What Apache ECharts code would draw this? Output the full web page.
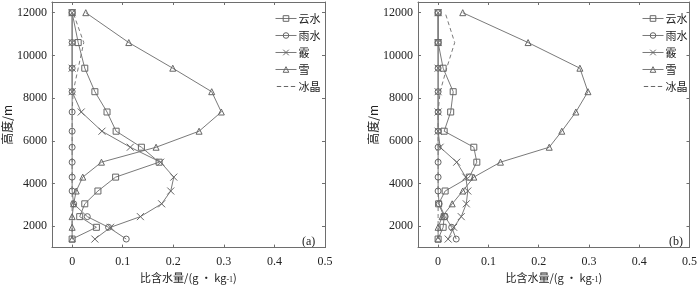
<!DOCTYPE html>
<html>
<head>
<meta charset="utf-8">
<title>比含水量廓线</title>
<script src="https://cdn.jsdelivr.net/npm/echarts@6/dist/echarts.min.js"></script>
<style>
  html, body { margin: 0; padding: 0; background: #fff; }
  #main { width: 700px; height: 289px; }
</style>
</head>
<body>
<div id="main"></div>
<script>
// 高度 (m)
var heights = [1400, 1950, 2450, 3050, 3650, 4300, 5000, 5700, 6450, 7350, 8300, 9400, 10600, 12000];

// panel (a)
var cloudA = [0, 0.048, 0.015, 0.025, 0.051, 0.086, 0.172, 0.137, 0.087, 0.069, 0.045, 0.025, 0.012, 0];
var rainA  = [0.107, 0.072, 0.030, 0.003, 0, 0, 0, 0, 0, 0, 0, 0, 0, 0];
var hailA  = [0.045, 0.076, 0.135, 0.177, 0.195, 0.201, 0.175, 0.115, 0.059, 0.018, 0, 0, 0, 0];
var snowA  = [0, 0, 0, 0.003, 0.008, 0.021, 0.058, 0.166, 0.251, 0.295, 0.276, 0.199, 0.112, 0.027];
var iceA   = [0, 0, 0, 0, 0, 0, 0, 0, 0, 0, 0.002, 0.012, 0.023, 0.002];

// panel (b)
var cloudB = [0, 0.010, 0.012, 0.001, 0.014, 0.062, 0.077, 0.071, 0.012, 0.025, 0.030, 0.010, 0, 0];
var rainB  = [0.036, 0.027, 0.014, 0.002, 0, 0, 0, 0, 0, 0, 0, 0, 0, 0];
var hailB  = [0.020, 0.031, 0.046, 0.056, 0.059, 0.055, 0.037, 0.004, 0, 0, 0, 0, 0, 0];
var snowB  = [0, 0, 0.008, 0.028, 0.049, 0.071, 0.124, 0.221, 0.246, 0.274, 0.298, 0.282, 0.179, 0.049];
var iceB   = [0, 0, 0, 0, 0, 0, 0, 0, 0, 0, 0.004, 0.017, 0.033, 0.014];

var names = ['云水', '雨水', '霰', '雪', '冰晶'];
var xTicks = [0, 0.1, 0.2, 0.3, 0.4, 0.5];
var yTicks = [2000, 4000, 6000, 8000, 10000, 12000];
var panelTags = ['(a)', '(b)'];

var lineCol = '#7a7a7a';
var frameCol = '#6e6e6e';
var serif = 'Liberation Serif';
var cjk = 'Noto Sans CJK SC';
var crossPath = 'path://M0,0L10,10M10,0L0,10';
var dashIcon = 'path://M0,0L0,0M0,4L5,4M8,4L13,4M16,4L21,4M21,8L21,8';
var symbols = ['rect', 'circle', crossPath, 'triangle', 'none'];
var hollow = { color: 'rgba(0,0,0,0)', borderColor: '#666', borderWidth: 1 };

var myChart = echarts.init(document.getElementById('main'));

var grids = [
    { left: 48, top: 2, width: 277, height: 252 },
    { left: 418, top: 2, width: 276, height: 252 }
];

function pairs(vals) {
    var out = [];
    for (var i = 0; i < vals.length; i++) out.push([vals[i], heights[i]]);
    return out;
}

var xAxes = [], yAxes = [], series = [], legends = [], graphics = [];

[0, 1].forEach(function (p) {
    // bottom x axis
    xAxes.push({
        type: 'value', gridIndex: p, position: 'bottom', min: -0.04, max: 0.5,
        name: '{a|比含水量/(g · kg}{s|-1}{a|)}', nameLocation: 'middle', nameGap: 22,
        nameTextStyle: { rich: {
            a: { fontFamily: cjk, fontSize: 11, color: '#222' },
            s: { fontFamily: serif, fontSize: 8, color: '#222', padding: [4, 0, 0, 0] }
        } },
        splitLine: { show: false },
        axisLine: { show: true, onZero: false, lineStyle: { color: frameCol } },
        axisTick: { show: true, inside: true, length: 3, customValues: xTicks, lineStyle: { color: frameCol } },
        axisLabel: { customValues: xTicks, margin: 8, fontFamily: serif, fontSize: 12, color: '#222',
            formatter: function (v) { return String(Math.round(v * 10) / 10); } }
    });
    // top mirror axis (ticks only)
    xAxes.push({
        type: 'value', gridIndex: p, position: 'top', min: -0.04, max: 0.5,
        splitLine: { show: false },
        axisLine: { show: true, onZero: false, lineStyle: { color: frameCol } },
        axisTick: { show: true, inside: true, length: 3, customValues: xTicks, lineStyle: { color: frameCol } },
        axisLabel: { show: false }
    });
    // left y axis
    yAxes.push({
        type: 'value', gridIndex: p, position: 'left', min: 1000, max: 12500,
        name: '高度/m', nameLocation: 'middle', nameGap: 38, nameRotate: 90,
        nameTextStyle: { fontFamily: cjk, fontSize: 12, color: '#222' },
        splitLine: { show: false },
        axisLine: { show: true, onZero: false, lineStyle: { color: frameCol } },
        axisTick: { show: true, inside: true, length: 3, customValues: yTicks, lineStyle: { color: frameCol } },
        axisLabel: { customValues: yTicks, margin: 5, fontFamily: serif, fontSize: 12, color: '#222',
            formatter: function (v) { return String(v); } }
    });
    // right mirror axis (ticks only)
    yAxes.push({
        type: 'value', gridIndex: p, position: 'right', min: 1000, max: 12500,
        splitLine: { show: false },
        axisLine: { show: true, onZero: false, lineStyle: { color: frameCol } },
        axisTick: { show: true, inside: true, length: 3, customValues: yTicks, lineStyle: { color: frameCol } },
        axisLabel: { show: false }
    });

    var sets = p === 0 ? [cloudA, rainA, hailA, snowA, iceA] : [cloudB, rainB, hailB, snowB, iceB];
    sets.forEach(function (vals, k) {
        var isIce = k === 4;
        series.push({
            name: names[k], type: 'line',
            xAxisIndex: p * 2, yAxisIndex: p * 2,
            data: pairs(vals),
            symbol: symbols[k],
            symbolSize: k === 2 ? 7 : 6,
            showSymbol: !isIce,
            smooth: false,
            silent: true,
            z: 5 - k,
            lineStyle: { color: lineCol, width: 1, type: isIce ? [4, 3] : 'solid' },
            itemStyle: hollow
        });
    });

    legends.push({
        data: names.map(function (n, k) {
            return k === 4 ? { name: n, icon: dashIcon } : { name: n };
        }),
        orient: 'vertical',
        left: p === 0 ? 270 : 637,
        top: 8,
        itemWidth: 21, itemHeight: 7, itemGap: 6,
        itemStyle: hollow,
        lineStyle: { color: lineCol, width: 1 },
        textStyle: { fontFamily: cjk, fontSize: 11, color: '#222', padding: [0, 0, 0, -3] },
        selectedMode: false
    });

    graphics.push({
        type: 'text',
        left: p === 0 ? 302 : 669,
        top: 236,
        style: { text: panelTags[p], fontFamily: serif, fontSize: 12, fill: '#222' }
    });
});

var option = {
    backgroundColor: '#fff',
    animation: false,
    grid: grids,
    xAxis: xAxes,
    yAxis: yAxes,
    legend: legends,
    graphic: graphics,
    series: series
};

myChart.setOption(option);
</script>
</body>
</html>
